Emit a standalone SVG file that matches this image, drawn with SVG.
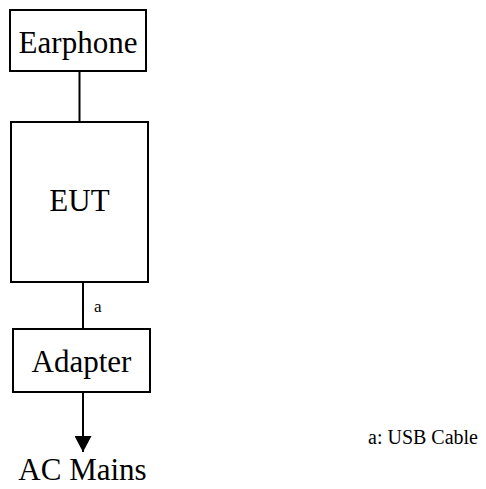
<svg xmlns="http://www.w3.org/2000/svg" width="486" height="489" viewBox="0 0 486 489">
<style>
.box{fill:#fff;stroke:#000;stroke-width:2}
.t{font-family:"Liberation Serif","Times New Roman",serif;font-size:31px;fill:#000;text-anchor:middle}
.s{font-family:"Liberation Serif","Times New Roman",serif;fill:#000}
.ln{stroke:#000;stroke-width:2;fill:none}
</style>
<defs>
<marker id="ah" viewBox="0 0 16 17" refX="16" refY="8.5" markerWidth="16" markerHeight="17" markerUnits="userSpaceOnUse" orient="auto">
<path d="M0,0 L16,8.5 L0,17 Z" fill="#000"/>
</marker>
</defs>
<rect width="486" height="489" fill="#fff"/>
<g id="connectors">
<line class="ln" x1="79.5" y1="71" x2="79.5" y2="122"/>
<line class="ln" x1="83" y1="282" x2="83" y2="329"/>
<line class="ln" x1="83" y1="392" x2="83" y2="452" marker-end="url(#ah)"/>
<text class="s" x="94" y="312" font-size="17">a</text>
</g>
<g id="earphone">
<rect class="box" x="10" y="10" width="136" height="61"/>
<text class="t" x="78" y="53">Earphone</text>
</g>
<g id="eut">
<rect class="box" x="11" y="122" width="137" height="160"/>
<text class="t" x="79.5" y="211">EUT</text>
</g>
<g id="adapter">
<rect class="box" x="13" y="329" width="137" height="63"/>
<text class="t" x="81.5" y="372">Adapter</text>
</g>
<g id="acmains">
<text class="t" x="82.5" y="480">AC Mains</text>
</g>
<text class="s" x="368" y="444" font-size="20">a: USB Cable</text>
</svg>
